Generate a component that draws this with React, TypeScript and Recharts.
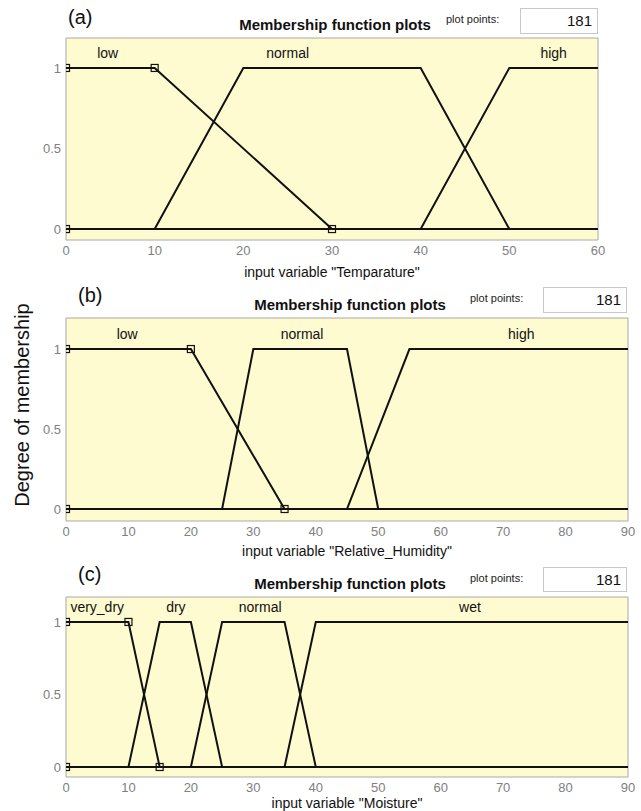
import React from 'react';
import { ComposedChart, Line, Scatter, XAxis, YAxis, ReferenceArea, ReferenceDot, Label } from 'recharts';

// (a) Temperature
const tempRange = [0, 60];
const tempTicks = [0, 10, 20, 30, 40, 50, 60];
const tempNames = ['low', 'normal', 'high'];
const tempParams = [[0, 0, 10, 30], [10, 20, 40, 50], [40, 50, 60, 60]];
const tempLabelX = [4.7, 25, 55];
const tempMarkers = [{ x: 0, y: 1 }, { x: 10, y: 1 }, { x: 0, y: 0 }, { x: 30, y: 0 }];

// (b) Relative humidity
const humRange = [0, 90];
const humTicks = [0, 10, 20, 30, 40, 50, 60, 70, 80, 90];
const humNames = ['low', 'normal', 'high'];
const humParams = [[0, 0, 20, 35], [25, 30, 45, 50], [45, 55, 90, 90]];
const humLabelX = [9.8, 37.8, 72.9];
const humMarkers = [{ x: 0, y: 1 }, { x: 20, y: 1 }, { x: 0, y: 0 }, { x: 35, y: 0 }];

// (c) Moisture
const moistRange = [0, 90];
const moistTicks = [0, 10, 20, 30, 40, 50, 60, 70, 80, 90];
const moistNames = ['very_dry', 'dry', 'normal', 'wet'];
const moistParams = [[0, 0, 10, 15], [10, 15, 20, 25], [20, 25, 35, 40], [35, 40, 90, 90]];
const moistLabelX = [5, 17.6, 31.1, 64.7];
const moistMarkers = [{ x: 0, y: 1 }, { x: 10, y: 1 }, { x: 0, y: 0 }, { x: 15, y: 0 }];

const yTicks = [0, 0.5, 1];

const BG = '#FFFBD1';
const BORDER = '#A8A8A8';
const FONT = '"Liberation Sans", Arial, sans-serif';

// trapmf outline, skipping vertical drops on the plot edges
const trapPoints = (p: number[], range: number[]) => {
  const [a, b, c, d] = p;
  const [lo, hi] = range;
  const pts: { x: number; y: number }[] = [];
  if (b > lo) {
    pts.push({ x: lo, y: 0 });
    if (a > lo) pts.push({ x: a, y: 0 });
  }
  pts.push({ x: b, y: 1 });
  pts.push({ x: c, y: 1 });
  if (c < hi) {
    pts.push({ x: d, y: 0 });
    if (d < hi) pts.push({ x: hi, y: 0 });
  }
  return pts;
};

const SquareMarker = (props: any) => {
  const { cx, cy } = props;
  if (cx == null || cy == null) return null;
  return <rect x={cx - 3.5} y={cy - 3.5} width={7} height={7} fill="none" stroke="#111" strokeWidth={1.2} />;
};

interface PanelProps {
  top: number;
  height: number;
  marginTop: number;
  marginRight: number;
  axisHeight: number;
  yDomain: number[];
  labelY: number;
  range: number[];
  ticks: number[];
  names: string[];
  params: number[][];
  labelX: number[];
  markers: { x: number; y: number }[];
  title: string;
  titleOffset: number;
}

const Panel = (props: PanelProps) => {
  const { top, height, marginTop, marginRight, axisHeight, yDomain, labelY, range, ticks, names, params, labelX, markers, title, titleOffset } = props;
  const blank = () => '';
  return (
    <div style={{ position: 'absolute', left: 0, top }}>
      <ComposedChart width={641} height={height} margin={{ top: marginTop, right: marginRight, bottom: 0, left: 10 }}>
        <ReferenceArea x1={range[0]} x2={range[1]} y1={yDomain[0]} y2={yDomain[1]} fill={BG} fillOpacity={1} stroke={BORDER} strokeWidth={1} />
        <XAxis
          type="number"
          dataKey="x"
          domain={range}
          ticks={ticks}
          allowDataOverflow
          height={axisHeight}
          tickLine={false}
          axisLine={false}
          tickSize={4}
          tick={{ fill: '#808080', fontSize: 13, fontFamily: FONT }}
        >
          <Label value={title} position="insideBottom" offset={titleOffset} style={{ fill: '#111', fontSize: 14, fontFamily: FONT }} />
        </XAxis>
        <XAxis xAxisId="inB" type="number" dataKey="x" domain={range} ticks={ticks} orientation="bottom" mirror axisLine={false} tickSize={4} tickFormatter={blank} stroke={BORDER} />
        <XAxis xAxisId="inT" type="number" dataKey="x" domain={range} ticks={ticks} orientation="top" mirror axisLine={false} tickSize={4} tickFormatter={blank} stroke={BORDER} />
        <YAxis
          type="number"
          domain={yDomain}
          ticks={yTicks}
          allowDataOverflow
          width={56}
          tickLine={false}
          axisLine={false}
          tickSize={3}
          tick={{ fill: '#808080', fontSize: 13, fontFamily: FONT }}
        />
        <YAxis yAxisId="inR" type="number" domain={yDomain} ticks={yTicks} orientation="right" mirror axisLine={false} tickSize={4} tickFormatter={blank} stroke={BORDER} />
        {params.map((p, i) => (
          <Line
            key={names[i]}
            data={trapPoints(p, range)}
            dataKey="y"
            type="linear"
            stroke="#111"
            strokeWidth={2}
            dot={false}
            isAnimationActive={false}
          />
        ))}
        <Line data={[{ x: range[0], y: 0 }, { x: range[1], y: 0 }]} dataKey="y" type="linear" stroke="#111" strokeWidth={2} dot={false} isAnimationActive={false} />
        <Scatter data={markers} dataKey="y" shape={<SquareMarker />} isAnimationActive={false} />
        {names.map((n, i) => (
          <ReferenceDot
            key={'lab-' + n}
            x={labelX[i]}
            y={labelY}
            r={0}
            fill="none"
            stroke="none"
            label={{ value: n, position: 'center', fill: '#111', fontSize: 14, fontFamily: FONT }}
          />
        ))}
      </ComposedChart>
    </div>
  );
};

interface HeaderProps {
  letter: string;
  letterLeft: number;
  letterTop: number;
  titleCenter: number;
  titleTop: number;
  ppLeft: number;
  ppTop: number;
  boxLeft: number;
  boxTop: number;
  boxWidth: number;
  boxHeight: number;
}

const Header = (h: HeaderProps) => (
  <>
    <div style={{ position: 'absolute', left: h.letterLeft, top: h.letterTop, fontSize: 20, fontFamily: FONT, color: '#111' }}>{h.letter}</div>
    <div style={{ position: 'absolute', left: h.titleCenter - 150, width: 300, textAlign: 'center', top: h.titleTop, fontSize: 15, fontWeight: 'bold', fontFamily: FONT, color: '#111' }}>
      Membership function plots
    </div>
    <div style={{ position: 'absolute', left: h.ppLeft, top: h.ppTop, fontSize: 11, fontFamily: FONT, color: '#222' }}>plot points:</div>
    <div
      style={{
        position: 'absolute',
        left: h.boxLeft,
        top: h.boxTop,
        width: h.boxWidth,
        height: h.boxHeight,
        border: '1px solid #c8c8c8',
        background: '#fff',
        boxSizing: 'border-box',
        textAlign: 'right',
        paddingRight: 5,
        lineHeight: h.boxHeight - 2 + 'px',
        fontSize: 15,
        fontFamily: FONT,
        color: '#111',
      }}
    >
      181
    </div>
  </>
);

export default function App() {
  return (
    <div style={{ position: 'absolute', left: 0, top: 0, width: 641, height: 811, background: '#fff', overflow: 'hidden' }}>
      <Panel
        top={0}
        height={280}
        marginTop={38}
        marginRight={43}
        axisHeight={40}
        yDomain={[-0.068, 1.186]}
        labelY={1.093}
        range={tempRange}
        ticks={tempTicks}
        names={tempNames}
        params={tempParams}
        labelX={tempLabelX}
        markers={tempMarkers}
        title={'input variable "Temparature"'}
        titleOffset={3}
      />
      <Panel
        top={280}
        height={281}
        marginTop={38}
        marginRight={13}
        axisHeight={40}
        yDomain={[-0.075, 1.194]}
        labelY={1.094}
        range={humRange}
        ticks={humTicks}
        names={humNames}
        params={humParams}
        labelX={humLabelX}
        markers={humMarkers}
        title={'input variable "Relative_Humidity"'}
        titleOffset={5}
      />
      <Panel
        top={561}
        height={250}
        marginTop={36}
        marginRight={13}
        axisHeight={34}
        yDomain={[-0.069, 1.172]}
        labelY={1.1}
        range={moistRange}
        ticks={moistTicks}
        names={moistNames}
        params={moistParams}
        labelX={moistLabelX}
        markers={moistMarkers}
        title={'input variable "Moisture"'}
        titleOffset={3}
      />
      <Header letter="(a)" letterLeft={68} letterTop={6} titleCenter={335} titleTop={16} ppLeft={446} ppTop={13} boxLeft={520} boxTop={8} boxWidth={78} boxHeight={26} />
      <Header letter="(b)" letterLeft={78} letterTop={284} titleCenter={350} titleTop={296} ppLeft={470} ppTop={292} boxLeft={543} boxTop={287} boxWidth={84} boxHeight={26} />
      <Header letter="(c)" letterLeft={78} letterTop={563} titleCenter={350} titleTop={575} ppLeft={470} ppTop={572} boxLeft={543} boxTop={567} boxWidth={84} boxHeight={25} />
      <div
        style={{
          position: 'absolute',
          left: 22 - 120,
          top: 405 - 12,
          width: 240,
          height: 24,
          textAlign: 'center',
          transform: 'rotate(-90deg)',
          fontSize: 20,
          fontFamily: FONT,
          color: '#111',
          lineHeight: '24px',
        }}
      >
        Degree of membership
      </div>
    </div>
  );
}
